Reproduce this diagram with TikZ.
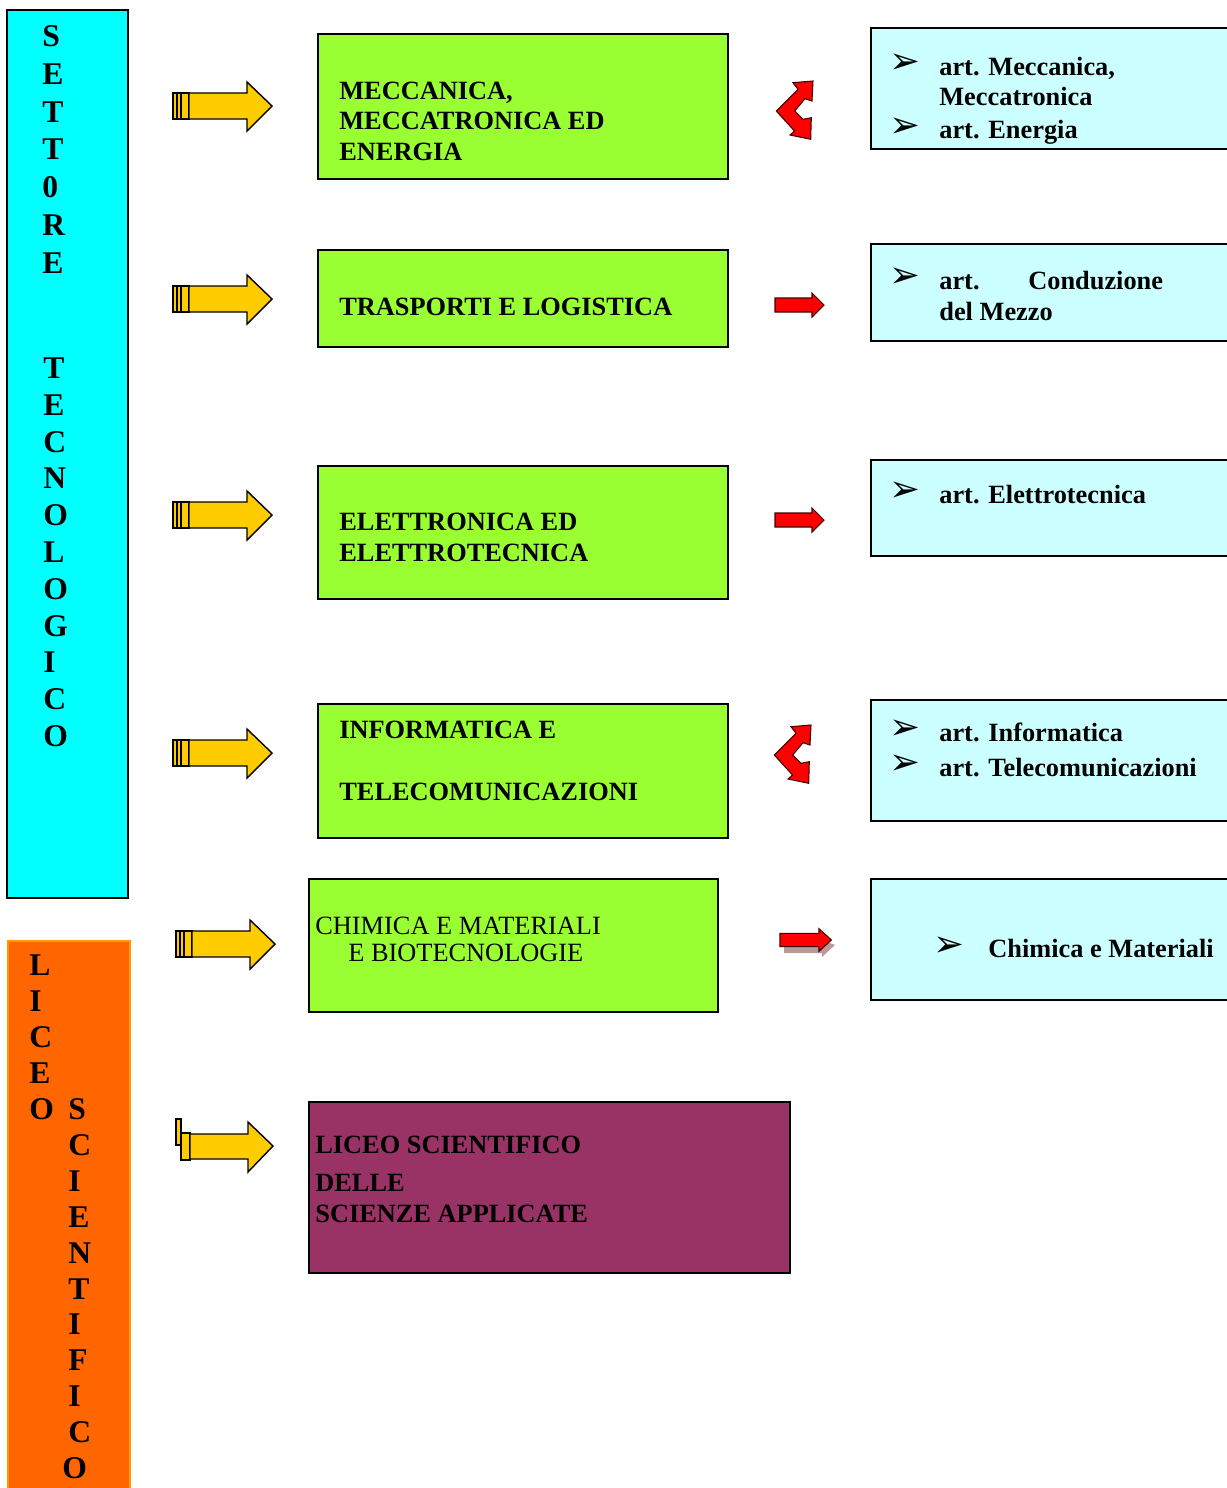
\documentclass[tikz,border=0pt]{standalone}
\usepackage{fontspec}
\setmainfont{Liberation Serif}
\newfontfamily\symfont{DejaVu Sans}

\definecolor{ciano}{HTML}{00FFFF}
\definecolor{verde}{HTML}{99FF33}
\definecolor{azzurro}{HTML}{CCFFFF}
\definecolor{arancio}{HTML}{FF6600}
\definecolor{bordoarancio}{HTML}{FF9900}
\definecolor{viola}{HTML}{993366}
\definecolor{giallo}{HTML}{FFCC00}
\definecolor{rosso}{HTML}{FF0000}
\definecolor{ombra}{HTML}{B89A9A}

\tikzset{
  settore/.style={draw=black, fill=ciano, line width=1pt},
  liceo/.style={draw=bordoarancio, fill=arancio, line width=1pt},
  indirizzo/.style={draw=black, fill=verde, line width=0.7pt},
  articolazione/.style={draw=black, fill=azzurro, line width=0.8pt},
  lettera/.style={anchor=base west, inner sep=0pt, font=\fontsize{18}{20}\selectfont\bfseries},
  testo/.style={anchor=base west, inner sep=0pt, font=\fontsize{15}{17}\selectfont\bfseries},
  testonormale/.style={anchor=base west, inner sep=0pt, font=\fontsize{15}{17}\selectfont},
  punto/.style={inner sep=0pt, font=\symfont\fontsize{21}{23}\selectfont},
  frecciagialla/.pic={
    \draw[fill=giallo, line width=0.6pt] (0,-13) rectangle (4,13) (4,-13) rectangle (8,13) (8,-13) rectangle (16,13);
    \draw[fill=giallo, line width=0.8pt, line join=miter] (16,-13) -- (74,-13) -- (74,-24) -- (99,0) -- (74,25) -- (74,13) -- (16,13) -- cycle;
  },
  frecciarossa/.pic={
    \draw[fill=rosso, draw=black!75!red, line width=0.6pt] (0,-7) -- (37,-7) -- (37,-12) -- (49,0) -- (37,12) -- (37,7) -- (0,7) -- cycle;
  },
  frecciadoppia/.pic={
    \draw[fill=rosso, draw=black!75!red, line width=0.6pt, line join=miter]
      (53,11) -- (52,31) -- (45,28.7) -- (34.7,41) -- (43,49.3) -- (51.3,47.7)
      -- (50.7,69.3) -- (30,65) -- (34.5,61) -- (16.3,41) -- (38,19.3) -- (33,12.7) -- cycle;
  },
}

\begin{document}
\begin{tikzpicture}[x=0.02cm, y=-0.02cm]
  \useasboundingbox (0,0) rectangle (1227,1488);
  \clip (0,0) rectangle (1227,1488);

  % colonne a sinistra
  \draw[settore] (7,10) rectangle (128,898);
  \draw[liceo] (8,941) rectangle (130,1500);
  \foreach \l [count=\i] in {S,E,T,T,0,R,E}
    \node[lettera] (set\i) at (42,46.5+37.8*\i-37.8) {\l};
  \foreach \l [count=\i] in {T,E,C,N,O,L,O,G,I,C,O}
    \node[lettera] (tec\i) at (43,378.5+36.8*\i-36.8) {\l};
  \foreach \l [count=\i] in {L,I,C,E,O}
    \node[lettera] (lic\i) at (29,975.5+36*\i-36) {\l};
  \foreach \l [count=\i] in {S,C,I,E,N,T,I,F,I,C}
    \node[lettera] (sci\i) at (68,1119.5+35.9*\i-35.9) {\l};
  \node[lettera] (sci11) at (62,1478.5) {O};

  % frecce gialle
  \pic at (173,106) {frecciagialla};
  \pic at (173,299) {frecciagialla};
  \pic at (173,515) {frecciagialla};
  \pic at (173,753) {frecciagialla};
  \pic at (176,944) {frecciagialla};
  % freccia del liceo
  \draw[fill=giallo, line width=0.6pt] (176,1119) rectangle (181,1145);
  \draw[fill=giallo, line width=0.6pt] (181,1133) rectangle (190,1160);
  \draw[fill=giallo, line width=0.8pt, line join=miter] (190,1134) -- (248,1134) -- (248,1122) -- (273,1146)
    -- (248,1172) -- (248,1159) -- (190,1159) -- cycle;

  % indirizzi
  \draw[indirizzo] (318,34) rectangle (728,179);
  \node[testo] (mec1) at (339,99) {MECCANICA,};
  \node[testo] (mec2) at (339,129) {MECCATRONICA ED};
  \node[testo] (mec3) at (339,160) {ENERGIA};

  \draw[indirizzo] (318,250) rectangle (728,347);
  \node[testo] (tra1) at (339,315) {TRASPORTI E LOGISTICA};

  \draw[indirizzo] (318,466) rectangle (728,599);
  \node[testo] (ele1) at (339,530) {ELETTRONICA ED};
  \node[testo] (ele2) at (339,561) {ELETTROTECNICA};

  \draw[indirizzo] (318,704) rectangle (728,838);
  \node[testo] (inf1) at (339,738) {INFORMATICA E};
  \node[testo] (inf2) at (339,800) {TELECOMUNICAZIONI};

  \draw[indirizzo] (309,879) rectangle (718,1012);
  \node[testonormale] (chi1) at (315,934) {CHIMICA E MATERIALI};
  \node[testonormale] (chi2) at (348,961) {E BIOTECNOLOGIE};

  \draw[indirizzo, fill=viola] (309,1102) rectangle (790,1273);
  \node[testo] (lsa1) at (315,1153) {LICEO SCIENTIFICO};
  \node[testo] (lsa2) at (315,1191) {DELLE};
  \node[testo] (lsa3) at (315,1222) {SCIENZE APPLICATE};

  % frecce rosse
  \pic at (760,70) {frecciadoppia};
  \pic at (775,305) {frecciarossa};
  \pic at (775,520) {frecciarossa};
  \pic at (758,714) {frecciadoppia};
  % ombra
  \fill[ombra] (784,944) -- (822,944) -- (822,940) -- (835,945) -- (822,957) -- (822,953) -- (784,953) -- cycle;
  \pic[xscale=1.05, yscale=0.95] at (780,940) {frecciarossa};

  % articolazioni
  \draw[articolazione] (871,28) rectangle (1240,149);
  \node[punto] (p1) at (905,64) {➢};
  \node[punto] (p2) at (905,128) {➢};
  \node[testo] (art1) at (939,75) {art. Meccanica,};
  \node[testo] (art2) at (939,105) {Meccatronica};
  \node[testo] (art3) at (939,138) {art. Energia};

  \draw[articolazione] (871,244) rectangle (1240,341);
  \node[punto] (p3) at (905,278) {➢};
  \node[testo] (art4) at (939,289) {art.};
  \node[testo] (art5) at (1028,289) {Conduzione};
  \node[testo] (art6) at (939,320) {del Mezzo};

  \draw[articolazione] (871,460) rectangle (1240,556);
  \node[punto] (p4) at (905,492) {➢};
  \node[testo] (art7) at (939,503) {art. Elettrotecnica};

  \draw[articolazione] (871,700) rectangle (1240,821);
  \node[punto] (p5) at (905,730) {➢};
  \node[punto] (p6) at (905,765) {➢};
  \node[testo] (art8) at (939,741) {art. Informatica};
  \node[testo] (art9) at (939,776) {art. Telecomunicazioni};

  \draw[articolazione] (871,879) rectangle (1240,1000);
  \node[punto] (p7) at (949,947) {➢};
  \node[testo] (art10) at (988,957) {Chimica e Materiali};
\end{tikzpicture}
\end{document}
